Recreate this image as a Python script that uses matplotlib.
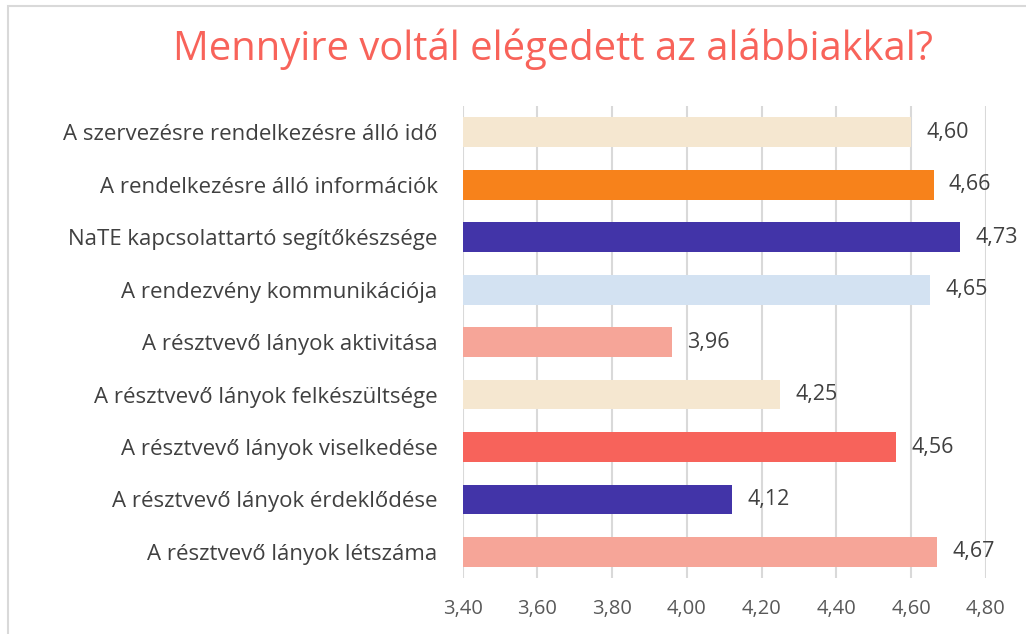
import matplotlib.pyplot as plt
from matplotlib.patches import Rectangle
from matplotlib.ticker import FuncFormatter

plt.rcParams['font.family'] = ['Open Sans', 'DejaVu Sans']

title = 'Mennyire voltál elégedett az alábbiakkal?'

# top to bottom as shown in the chart
categories = [
    'A szervezésre rendelkezésre álló idő',
    'A rendelkezésre álló információk',
    'NaTE kapcsolattartó segítőkészsége',
    'A rendezvény kommunikációja',
    'A résztvevő lányok aktivitása',
    'A résztvevő lányok felkészültsége',
    'A résztvevő lányok viselkedése',
    'A résztvevő lányok érdeklődése',
    'A résztvevő lányok létszáma',
]
values = [4.60, 4.66, 4.73, 4.65, 3.96, 4.25, 4.56, 4.12, 4.67]
colors = ['#F5E7D0', '#F7821B', '#4234A8', '#D3E2F2', '#F6A598',
          '#F5E7D0', '#F7635B', '#4234A8', '#F6A598']
xticks = [3.4, 3.6, 3.8, 4.0, 4.2, 4.4, 4.6, 4.8]

fig = plt.figure(figsize=(10.26, 6.34), dpi=100)
ax = fig.add_axes([0.451, 0.088, 0.510, 0.745])

pos = list(range(len(categories)))
ax.barh(pos, [v - 3.4 for v in values], left=3.4, height=0.57, color=colors, zorder=2)

for p, v in zip(pos, values):
    ax.annotate(f'{v:.2f}'.replace('.', ','), (v, p), xytext=(11, 0),
                textcoords='offset points', va='center', ha='left',
                fontsize=15.5, color='#404040', zorder=3)

ax.set_xlim(3.4, 4.8)
ax.set_ylim(len(categories) - 0.5, -0.5)
ax.set_xticks(xticks)
ax.xaxis.set_major_formatter(FuncFormatter(lambda x, _: f'{x:.2f}'.replace('.', ',')))
ax.set_yticks(pos)
ax.set_yticklabels(categories)
ax.tick_params(axis='y', length=0, pad=18, labelsize=16, labelcolor='#404040')
ax.tick_params(axis='x', length=0, pad=15, labelsize=14.5, labelcolor='#595959')
ax.grid(axis='x', color='#D9D9D9', linewidth=1.5, zorder=0)
for s in ax.spines.values():
    s.set_visible(False)

fig.text(0.539, 0.922, title, ha='center', va='center', fontsize=28.7, color='#F8635A')

# outer chart border (cropped on the right and bottom)
fig.patches.append(Rectangle((8 / 1026, -0.1), 1.2, 1.1 - 6 / 634, transform=fig.transFigure,
                             fill=False, edgecolor='#D9D9D9', linewidth=1.5))

fig.savefig('out.png', dpi=100)
